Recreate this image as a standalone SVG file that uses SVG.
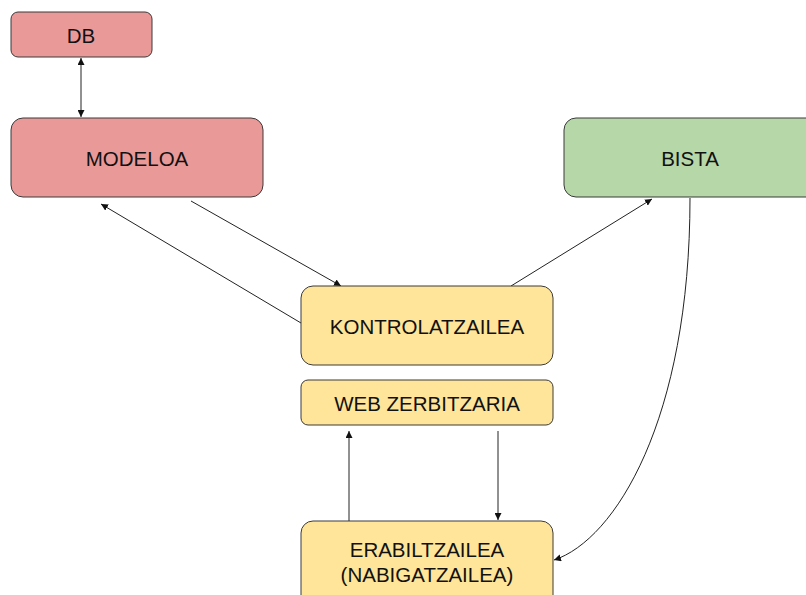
<svg xmlns="http://www.w3.org/2000/svg" width="806" height="595" viewBox="0 0 806 595">
<style>
.n{stroke:#3a3a3a;stroke-width:1}
.red{fill:#ea9999}
.green{fill:#b6d7a8}
.yel{fill:#ffe599}
text{font-family:"Liberation Sans",Arial,sans-serif;font-size:20.5px;fill:#111;text-anchor:middle;dominant-baseline:central}
.c{fill:none;stroke:#222;stroke-width:1}
</style>
<defs>
<marker id="a" viewBox="0 0 10 10" refX="10" refY="5" markerWidth="7" markerHeight="7" markerUnits="userSpaceOnUse" orient="auto-start-reverse">
<path d="M0,0 L10,5 L0,10 z" fill="#111"/>
</marker>
</defs>
<rect width="806" height="595" fill="#fff"/>
<g id="connectors">
<line class="c" x1="81" y1="58" x2="81" y2="117" marker-start="url(#a)" marker-end="url(#a)"/>
<line class="c" x1="301" y1="323" x2="101" y2="204" marker-end="url(#a)"/>
<line class="c" x1="191" y1="201" x2="341" y2="286" marker-end="url(#a)"/>
<line class="c" x1="511" y1="286" x2="652" y2="199" marker-end="url(#a)"/>
<line class="c" x1="349" y1="521" x2="349" y2="431" marker-end="url(#a)"/>
<line class="c" x1="498" y1="431" x2="498" y2="520" marker-end="url(#a)"/>
<path class="c" d="M690,198 C690,420 615,540 554,560" marker-end="url(#a)"/>
</g>
<g id="db"><rect class="n red" x="11" y="12" width="141" height="45" rx="7"/><text x="81" y="35">DB</text></g>
<g id="modeloa"><rect class="n red" x="11" y="118" width="252" height="79" rx="12"/><text x="137" y="158">MODELOA</text></g>
<g id="bista"><rect class="n green" x="564" y="118" width="260" height="79" rx="12"/><text x="690" y="158">BISTA</text></g>
<g id="kontrolatzailea"><rect class="n yel" x="301" y="286" width="252" height="79" rx="12"/><text x="427" y="326">KONTROLATZAILEA</text></g>
<g id="web"><rect class="n yel" x="301" y="380" width="252" height="45" rx="7"/><text x="427" y="403">WEB ZERBITZARIA</text></g>
<g id="erabiltzailea"><rect class="n yel" x="301" y="521" width="252" height="90" rx="12"/><text x="427" y="549">ERABILTZAILEA</text><text x="427" y="574">(NABIGATZAILEA)</text></g>
</svg>
